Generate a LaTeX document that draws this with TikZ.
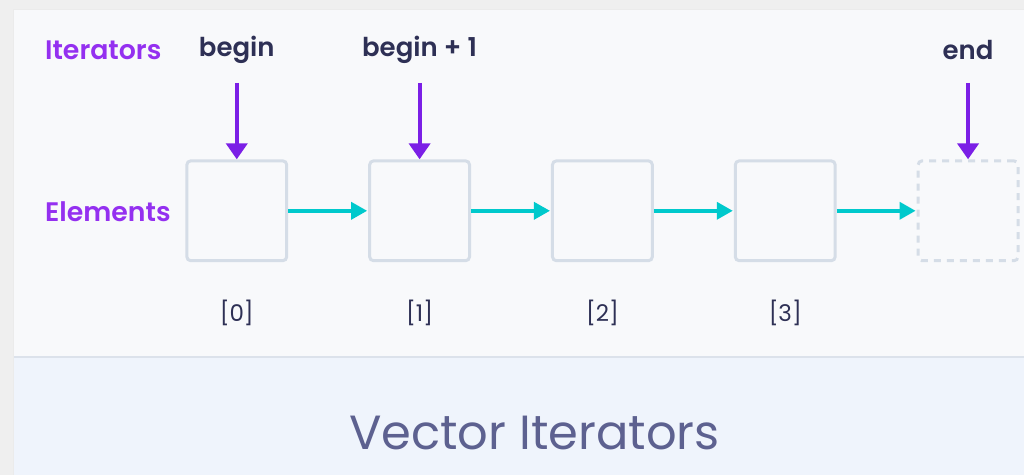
\documentclass[tikz,border=0pt]{standalone}
\usepackage{fontspec}
\setmainfont{Poppins}
\newfontfamily\medfont{Poppins SemiBold}
\usetikzlibrary{arrows.meta}
\definecolor{pagebg}{HTML}{EFEFEF}
\definecolor{panelbg}{HTML}{F8F9FB}
\definecolor{footbg}{HTML}{EFF4FC}
\definecolor{divider}{HTML}{DCE2EB}
\definecolor{boxline}{HTML}{D5DDE7}
\definecolor{teal}{HTML}{00C9CC}
\definecolor{iterpurple}{HTML}{7B1FE6}
\definecolor{rowlabel}{HTML}{9430F0}
\definecolor{ink}{HTML}{2E3055}
\definecolor{titleink}{HTML}{5D6190}
\begin{document}
\begin{tikzpicture}[x=1pt,y=-1pt,
  cell/.style={draw=boxline,line width=3pt,rounded corners=4pt,fill=panelbg,
    minimum width=100pt,minimum height=100pt,inner sep=0pt},
  ghost/.style={cell,dash pattern=on 7pt off 6pt},
  link/.style={draw=teal,line width=3.5pt,-{Triangle[length=16pt,width=17pt]},shorten >=1pt},
  pointer/.style={draw=iterpurple,line width=4pt,-{Triangle[length=16pt,width=21pt]}},
  rowname/.style={text=rowlabel,font=\fontsize{26.8}{29}\medfont,anchor=west,inner sep=0pt},
  itname/.style={text=ink,font=\fontsize{26}{29}\medfont,inner sep=0pt},
  index/.style={text=ink,font=\fontsize{23}{26}\selectfont,inner sep=0pt}]
  % canvas and panels
  \fill[pagebg] (0,0) rectangle (1025,475);
  \fill[panelbg] (14,10) rectangle (1025,357);
  \fill[footbg] (14,357) rectangle (1025,475);
  \draw[divider,line width=2pt] (14,357) -- (1025,357);
  \draw[black!8,line width=1pt] (14,475) -- (14,10) -- (1025,10);
  \useasboundingbox (0,0) rectangle (1025,475);

  % row labels
  \node[rowname] (lblit) at (45,50) {Iterators};
  \node[rowname] (lblel) at (45,212) {Elements};

  % element cells
  \node[cell] (c0) at (237,211) {};
  \node[cell] (c1) at (420,211) {};
  \node[cell] (c2) at (603,211) {};
  \node[cell] (c3) at (786,211) {};
  \node[ghost] (c4) at (969,211) {};

  % links between cells
  \draw[link] (c0.east) -- (c1.west);
  \draw[link] (c1.east) -- (c2.west);
  \draw[link] (c2.east) -- (c3.west);
  \draw[link] (c3.east) -- (c4.west);

  % indices
  \node[index] (i0) at (237,313) {[0]};
  \node[index] (i1) at (420,313) {[1]};
  \node[index] (i2) at (603,313) {[2]};
  \node[index] (i3) at (786,313) {[3]};

  % iterators
  \node[itname] (itb) at (237,50) {begin};
  \node[itname] (itb1) at (420,50) {begin + 1};
  \node[itname] (ite) at (969,50) {end};
  \coordinate (pb) at (237,83);
  \coordinate (pb1) at (420,83);
  \coordinate (pe) at (969,83);
  \draw[pointer] (pb) -- (c0.north);
  \draw[pointer] (pb1) -- (c1.north);
  \draw[pointer] (pe) -- (c4.north);

  % caption
  \node[text=titleink,font=\fontsize{48}{52}\selectfont,inner sep=0pt] (title) at (535,433) {Vector Iterators};
\end{tikzpicture}
\end{document}
